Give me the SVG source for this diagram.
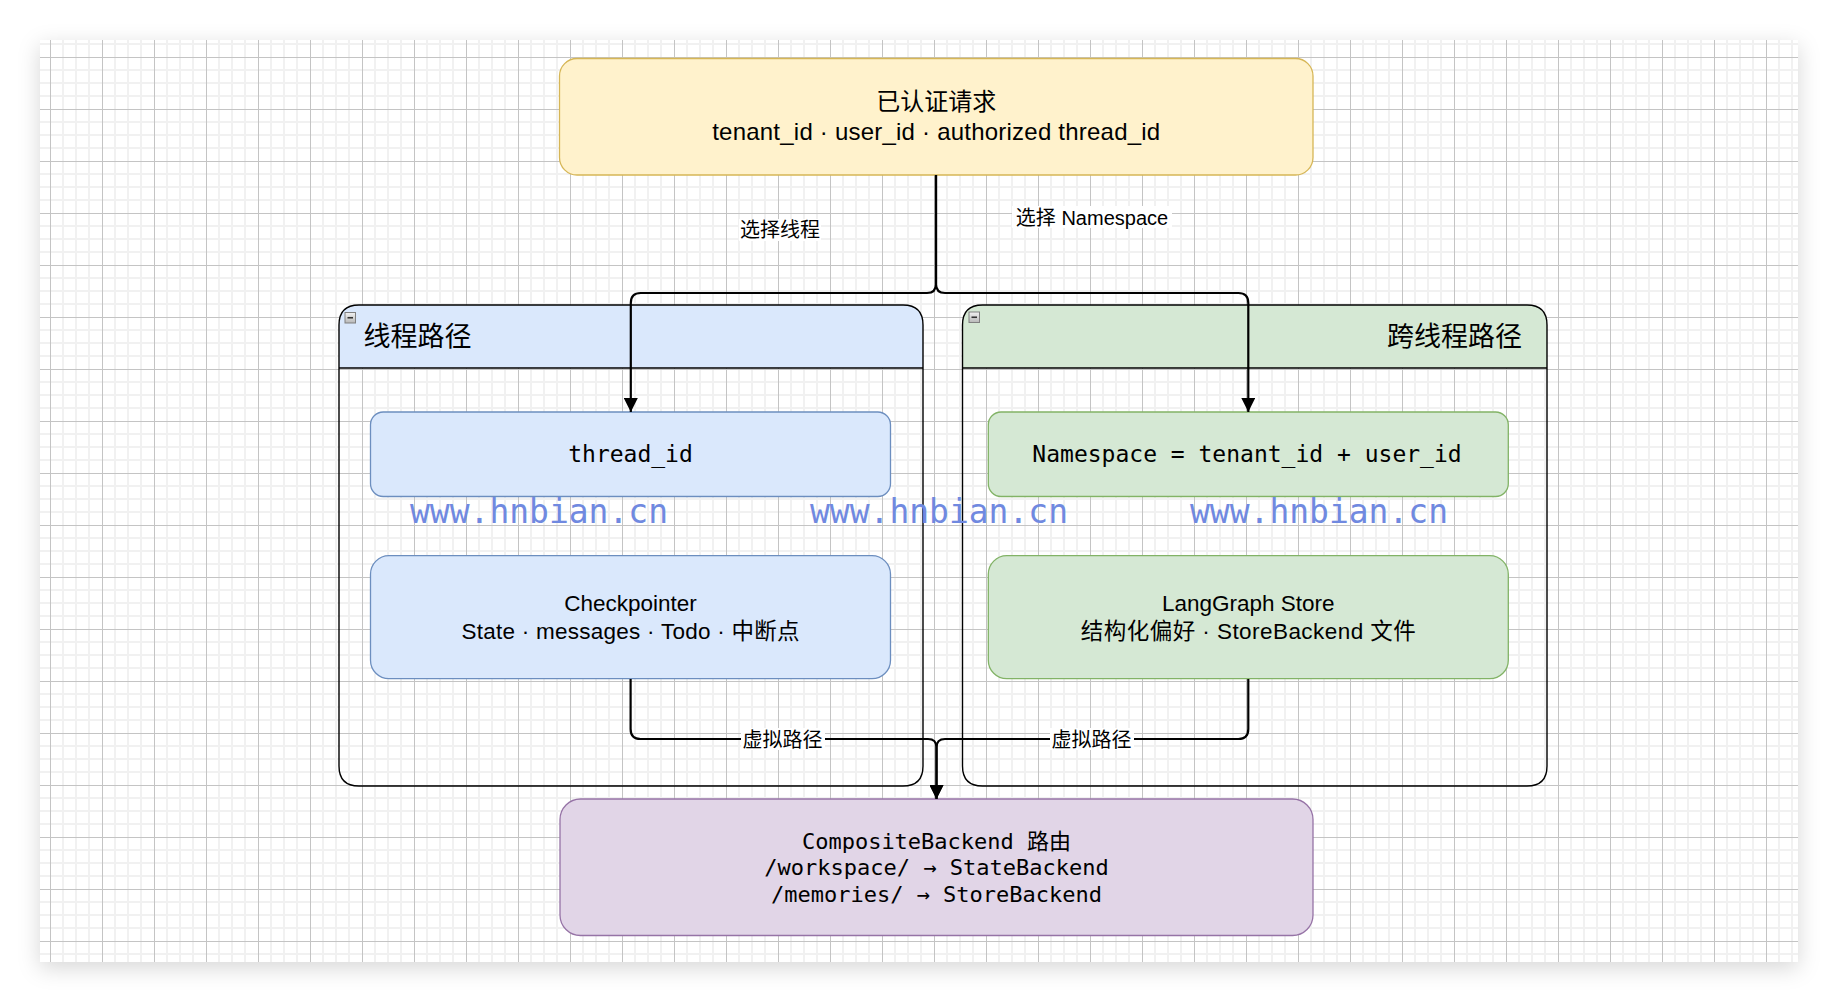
<svg xmlns="http://www.w3.org/2000/svg" width="1838" height="1002" viewBox="0 0 1838 1002">
  <style>
    .sans { font-family: "Liberation Sans", "Noto Sans CJK SC", sans-serif; fill: #000; }
    .mono { font-family: "DejaVu Sans Mono", "Noto Sans CJK SC", monospace; fill: #000; }
    .edge { fill: none; stroke: #000; stroke-width: 2.2; }
    .lbl { font-size: 20px; text-anchor: middle; }
    .lblbg { fill: #fff; }
    .cont { fill: none; stroke: #000; stroke-width: 1.4; }
    .wm { font-family: "DejaVu Sans Mono", monospace; font-size: 33px; fill: #7089e0; }
    .ctr { text-anchor: middle; }
  </style>
  <defs>
    <pattern id="grid" patternUnits="userSpaceOnUse" x="50" y="57" width="52" height="52">
      <rect x="12" y="0" width="2" height="52" fill="#f1f1f1"/>
      <rect x="25" y="0" width="2" height="52" fill="#f1f1f1"/>
      <rect x="38" y="0" width="2" height="52" fill="#f1f1f1"/>
      <rect x="0" y="12" width="52" height="2" fill="#f1f1f1"/>
      <rect x="0" y="25" width="52" height="2" fill="#f1f1f1"/>
      <rect x="0" y="38" width="52" height="2" fill="#f1f1f1"/>
      <rect x="0" y="0" width="1" height="52" fill="#c4c4c4"/>
      <rect x="0" y="0" width="52" height="1" fill="#c4c4c4"/>
    </pattern>
    <filter id="pageShadow" x="-5%" y="-5%" width="110%" height="115%">
      <feDropShadow dx="0" dy="6" stdDeviation="11" flood-color="#000" flood-opacity="0.16"/>
    </filter>
    <linearGradient id="iconGrad" x1="0" y1="0" x2="0" y2="1">
      <stop offset="0" stop-color="#f2f2f2"/>
      <stop offset="1" stop-color="#b8b8b8"/>
    </linearGradient>
    <marker id="arrow" markerUnits="userSpaceOnUse" markerWidth="14" markerHeight="14" viewBox="0 0 14 14" refX="14" refY="7" orient="auto">
      <path d="M0,0 L14,7 L0,14 Z" fill="#000"/>
    </marker>
  </defs>

  <rect x="0" y="0" width="1838" height="1002" fill="#fff"/>
  <rect x="40" y="40" width="1758" height="922" fill="#fff" filter="url(#pageShadow)"/>
  <rect x="40" y="40" width="1758" height="922" fill="url(#grid)"/>

  <!-- containers -->
  <g id="thread-path">
    <path d="M339,368 V325 Q339,305 359,305 H903 Q923,305 923,325 V368 Z" fill="#dae8fc"/>
    <path class="cont" d="M359,305 H903 Q923,305 923,325 V766 Q923,786 903,786 H359 Q339,786 339,766 V325 Q339,305 359,305 Z"/>
    <line class="cont" x1="339" y1="368" x2="923" y2="368"/>
    <rect x="345" y="312.5" width="10.5" height="10.5" fill="url(#iconGrad)" stroke="#808080" stroke-width="1"/>
    <line x1="347.5" y1="317.75" x2="353" y2="317.75" stroke="#333" stroke-width="1.6"/>
    <text class="sans" x="363.5" y="345.6" font-size="27">线程路径</text>
  </g>
  <g id="cross-thread-path">
    <path d="M962.5,368 V325 Q962.5,305 982.5,305 H1527 Q1547,305 1547,325 V368 Z" fill="#d5e8d4"/>
    <path class="cont" d="M982.5,305 H1527 Q1547,305 1547,325 V766 Q1547,786 1527,786 H982.5 Q962.5,786 962.5,766 V325 Q962.5,305 982.5,305 Z"/>
    <line class="cont" x1="962.5" y1="368" x2="1547" y2="368"/>
    <rect x="969" y="312" width="10.5" height="10.5" fill="url(#iconGrad)" stroke="#808080" stroke-width="1"/>
    <line x1="971.5" y1="317.25" x2="977" y2="317.25" stroke="#333" stroke-width="1.6"/>
    <text class="sans" x="1522" y="345.6" font-size="27" text-anchor="end">跨线程路径</text>
  </g>

  <!-- nodes -->
  <g id="auth-request">
    <rect x="559.5" y="58.5" width="753.5" height="116.5" rx="17.5" fill="#fff2cc" stroke="#d6b656" stroke-width="1.3"/>
    <text class="sans ctr" x="936.2" y="110" font-size="24">已认证请求</text>
    <text class="sans ctr" x="936.2" y="139.5" font-size="24" textLength="448" lengthAdjust="spacing">tenant_id · user_id · authorized thread_id</text>
  </g>
  <g id="thread-id">
    <rect x="370.5" y="412" width="520" height="84.5" rx="12.7" fill="#dae8fc" stroke="#6c8ebf" stroke-width="1.3"/>
    <text class="mono ctr" x="630.5" y="461.5" font-size="23">thread_id</text>
  </g>
  <g id="checkpointer">
    <rect x="370.5" y="555.7" width="520" height="123" rx="18.5" fill="#dae8fc" stroke="#6c8ebf" stroke-width="1.3"/>
    <text class="sans ctr" x="630.5" y="611" font-size="22.5">Checkpointer</text>
    <text class="sans ctr" x="630.5" y="638.5" font-size="22.5" textLength="338" lengthAdjust="spacing">State · messages · Todo · 中断点</text>
  </g>
  <g id="namespace">
    <rect x="988.3" y="412" width="520" height="84.5" rx="12.7" fill="#d5e8d4" stroke="#82b366" stroke-width="1.3"/>
    <text class="mono ctr" x="1247" y="461.5" font-size="23">Namespace = tenant_id + user_id</text>
  </g>
  <g id="langgraph-store">
    <rect x="988.3" y="555.7" width="520" height="123" rx="18.5" fill="#d5e8d4" stroke="#82b366" stroke-width="1.3"/>
    <text class="sans ctr" x="1248.3" y="611" font-size="22.5">LangGraph Store</text>
    <text class="sans ctr" x="1248.3" y="638.5" font-size="22.5" textLength="335" lengthAdjust="spacing">结构化偏好 · StoreBackend 文件</text>
  </g>
  <g id="composite-backend">
    <rect x="560" y="799" width="753" height="136.5" rx="20.5" fill="#e1d5e7" stroke="#9673a6" stroke-width="1.3"/>
    <text class="mono ctr" x="936.5" y="848.5" font-size="22">CompositeBackend 路由</text>
    <text class="mono ctr" x="936.5" y="875" font-size="22">/workspace/ → StateBackend</text>
    <text class="mono ctr" x="936.5" y="901.5" font-size="22">/memories/ → StoreBackend</text>
  </g>

  <!-- connectors -->
  <g id="connectors">
    <path class="edge" d="M936,175 V284 Q936,293 927,293 H640.8 Q630.8,293 630.8,303 V412" marker-end="url(#arrow)"/>
    <path class="edge" d="M936,175 V284 Q936,293 945,293 H1238.3 Q1248.3,293 1248.3,303 V412" marker-end="url(#arrow)"/>
    <path class="edge" d="M630.6,679 V729 Q630.6,739 640.6,739 H928 Q936.5,739 936.5,747.5 V799" marker-end="url(#arrow)"/>
    <path class="edge" d="M1248.3,679 V729 Q1248.3,739 1238.3,739 H945 Q936.5,739 936.5,747.5 V799" marker-end="url(#arrow)"/>
    <rect class="lblbg" x="739" y="219" width="82" height="22"/>
    <text class="sans lbl" x="780" y="237">选择线程</text>
    <rect class="lblbg" x="1012" y="206" width="160" height="22"/>
    <text class="sans lbl" x="1092" y="224.5">选择 Namespace</text>
    <rect class="lblbg" x="741" y="728" width="84" height="22"/>
    <text class="sans lbl" x="782.6" y="746.5">虚拟路径</text>
    <rect class="lblbg" x="1050" y="728" width="84" height="22"/>
    <text class="sans lbl" x="1091.6" y="746.5">虚拟路径</text>
  </g>

  <!-- watermarks -->
  <text class="wm" x="410" y="523" textLength="258" lengthAdjust="spacingAndGlyphs">www.hnbian.cn</text>
  <text class="wm" x="810" y="523" textLength="258" lengthAdjust="spacingAndGlyphs">www.hnbian.cn</text>
  <text class="wm" x="1190" y="523" textLength="258" lengthAdjust="spacingAndGlyphs">www.hnbian.cn</text>
</svg>
